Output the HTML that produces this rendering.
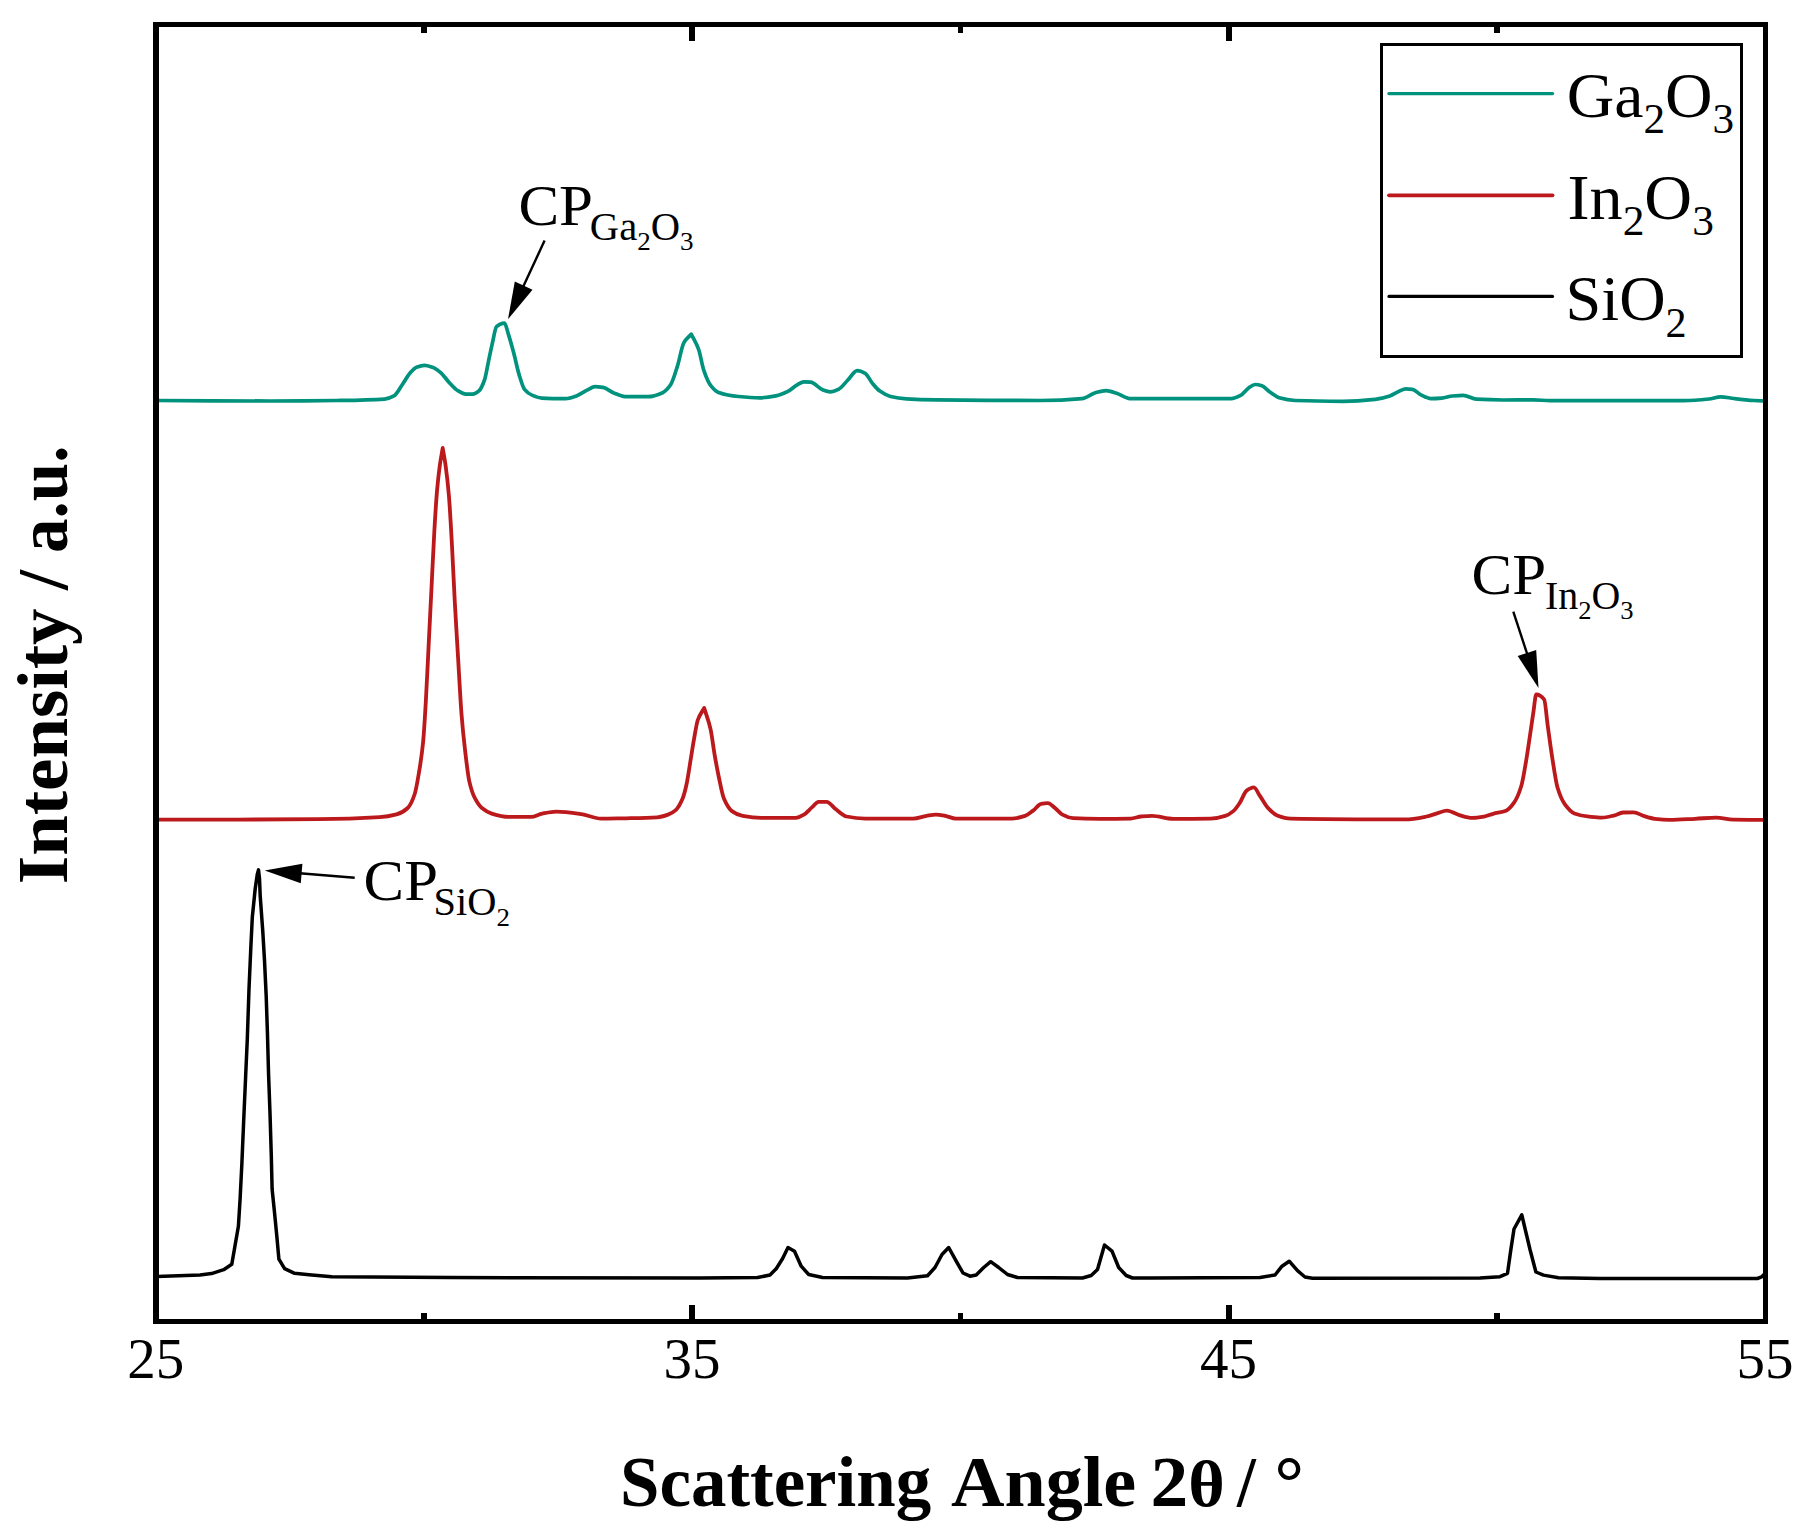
<!DOCTYPE html>
<html lang="en"><head><meta charset="utf-8"><title>XRD patterns</title>
<style>
html,body{margin:0;padding:0;background:#fff;}
body{width:1801px;height:1535px;overflow:hidden;}
svg{display:block;}
text{font-family:"Liberation Serif",serif;fill:#000;}
.b{font-weight:bold;}
</style></head><body>
<svg width="1801" height="1535" viewBox="0 0 1801 1535">
<rect width="1801" height="1535" fill="#fff"/>
<path d="M156.7,400.5C194.4,400.9 232.2,401.0 269.9,401.0C292.1,401.0 314.4,400.8 336.6,400.5C352.6,400.3 368.5,400.2 384.5,399.1C387.6,398.9 390.8,397.6 393.9,395.9C396.6,394.4 399.2,389.1 401.9,385.3C404.6,381.5 407.2,376.3 409.9,373.3C412.1,370.8 414.3,368.0 416.5,367.2C419.2,366.2 421.8,365.3 424.5,365.3C427.2,365.3 429.8,366.3 432.5,367.2C435.2,368.1 437.8,370.3 440.5,372.5C443.6,375.1 446.7,380.0 449.8,383.2C452.5,385.9 455.1,389.0 457.8,390.6C460.5,392.2 463.1,394.1 465.8,394.1C468.0,394.1 470.3,394.1 472.5,394.1C474.7,394.1 477.0,392.5 479.2,390.6C481.0,389.1 482.7,385.0 484.5,380.0C485.8,376.2 487.2,367.5 488.5,361.3C489.8,355.1 491.2,348.3 492.5,342.6C493.8,336.9 495.2,327.9 496.5,326.7C499.2,324.4 501.8,323.2 504.5,323.2C505.8,323.2 507.2,330.4 508.5,334.6C510.3,340.1 512.0,346.7 513.8,353.3C515.6,359.9 517.3,368.9 519.1,374.6C520.9,380.4 522.7,387.1 524.5,389.3C527.2,392.6 529.8,394.3 532.5,395.4C535.6,396.7 538.7,398.0 541.8,398.1C549.8,398.5 557.8,398.6 565.8,398.6C569.3,398.6 572.9,397.1 576.4,395.9C580.0,394.7 583.5,391.8 587.1,390.1C589.8,388.8 592.4,386.6 595.1,386.6C597.8,386.6 600.4,387.0 603.1,387.4C606.7,388.0 610.2,391.6 613.8,392.9C618.1,394.5 622.4,396.7 626.7,396.7C633.8,396.7 640.9,396.7 648.0,396.7C652.9,396.7 657.7,394.9 662.6,392.7C665.3,391.5 667.9,388.7 670.6,384.8C672.8,381.5 675.1,373.5 677.3,366.6C679.5,359.8 681.7,346.5 683.9,342.6C686.3,338.3 688.8,336.9 691.2,334.1C693.7,339.2 696.1,342.5 698.6,349.3C700.4,354.2 702.1,365.5 703.9,370.6C706.1,377.0 708.4,382.4 710.6,385.3C713.3,388.7 715.9,391.5 718.6,392.5C725.3,394.9 731.9,395.9 738.6,396.5C745.7,397.2 752.8,397.8 759.9,397.8C765.2,397.8 770.6,396.9 775.9,395.9C779.9,395.2 783.9,393.4 787.9,391.4C791.0,389.9 794.1,386.5 797.2,384.8C799.4,383.6 801.7,381.8 803.9,381.8C806.1,381.8 808.4,381.9 810.6,382.1C814.6,382.4 818.6,388.3 822.6,389.8C825.2,390.8 827.9,391.9 830.5,391.9C833.2,391.9 835.8,390.6 838.5,389.3C841.6,387.8 844.8,383.1 847.9,380.0C851.0,376.9 854.1,370.6 857.2,370.6C859.9,370.6 862.5,371.8 865.2,373.3C867.4,374.5 869.7,379.9 871.9,382.6C874.6,385.8 877.2,389.2 879.9,391.1C883.4,393.6 887.0,395.6 890.5,396.5C895.8,397.8 901.2,398.6 906.5,398.9C916.3,399.5 926.0,399.8 935.8,399.9C970.5,400.3 1005.1,400.5 1039.8,400.5C1053.9,400.5 1067.9,399.9 1082.0,398.6C1086.4,398.2 1090.9,394.0 1095.3,392.8C1098.9,391.8 1102.4,390.6 1106.0,390.6C1109.5,390.6 1113.1,392.2 1116.6,393.3C1121.1,394.7 1125.5,398.6 1130.0,398.6C1147.8,398.6 1165.5,398.6 1183.3,398.6C1199.3,398.6 1215.2,398.6 1231.2,398.6C1234.3,398.6 1237.5,397.0 1240.6,395.4C1243.3,394.1 1245.9,389.8 1248.6,388.0C1250.8,386.5 1253.0,384.5 1255.2,384.5C1257.4,384.5 1259.7,385.1 1261.9,385.8C1264.6,386.6 1267.2,390.2 1269.9,392.0C1273.0,394.1 1276.1,396.9 1279.2,397.8C1284.5,399.3 1289.9,400.3 1295.2,400.5C1311.2,401.1 1327.2,401.3 1343.2,401.3C1353.9,401.3 1364.5,400.5 1375.2,399.4C1380.1,398.9 1384.9,397.6 1389.8,396.0C1392.9,395.0 1396.0,392.5 1399.1,391.2C1401.3,390.3 1403.6,388.8 1405.8,388.8C1408.0,388.8 1410.3,389.0 1412.5,389.3C1415.2,389.6 1417.8,393.3 1420.5,394.6C1424.0,396.3 1427.6,398.6 1431.1,398.6C1434.7,398.6 1438.2,398.4 1441.8,398.1C1445.4,397.8 1448.9,396.3 1452.5,396.0C1456.0,395.7 1459.6,395.4 1463.1,395.4C1467.5,395.4 1472.0,398.9 1476.4,399.2C1485.3,399.7 1494.2,400.0 1503.1,400.0C1513.2,400.0 1523.3,399.8 1533.4,399.8C1538.9,399.8 1544.5,400.7 1550.0,400.7C1594.6,400.7 1639.3,400.7 1683.9,400.7C1692.2,400.7 1700.6,399.9 1708.9,399.0C1712.8,398.6 1716.7,396.8 1720.6,396.8C1725.1,396.8 1729.5,398.0 1734.0,398.5C1740.7,399.3 1747.3,400.1 1754.0,400.5C1757.9,400.7 1761.9,400.9 1765.8,401.0" fill="none" stroke="#00927d" stroke-width="3.7" stroke-linejoin="round" stroke-linecap="round"/>
<path d="M157.0,819.7C210.7,819.7 264.3,819.5 318.0,819.2C338.6,819.1 359.1,818.5 379.7,817.2C385.3,816.9 390.9,815.9 396.5,814.4C400.2,813.4 404.0,811.5 407.7,808.0C410.0,805.8 412.4,800.9 414.7,794.0C416.1,789.9 417.5,781.3 418.9,773.0C420.3,764.7 421.7,756.2 423.1,742.1C424.0,732.7 425.0,716.1 425.9,700.1C426.8,684.1 427.8,662.8 428.7,644.1C429.6,625.4 430.6,606.8 431.5,588.1C432.4,569.4 433.4,548.0 434.3,532.0C435.2,516.0 436.2,500.5 437.1,490.0C438.0,479.5 439.0,471.5 439.9,464.8C440.8,458.1 441.8,453.6 442.7,448.0C443.6,453.6 444.6,458.1 445.5,464.8C446.6,472.9 447.8,482.4 448.9,495.6C449.9,507.7 451.0,527.4 452.0,546.0C452.9,562.8 453.9,584.9 454.8,602.1C455.9,622.4 457.0,639.7 458.1,658.1C459.2,677.0 460.4,699.9 461.5,714.1C462.7,729.2 463.9,740.3 465.1,750.5C466.5,762.5 467.9,775.2 469.3,781.3C471.2,789.4 473.0,794.6 474.9,798.2C477.2,802.7 479.6,806.1 481.9,808.0C485.2,810.7 488.4,812.6 491.7,813.6C497.3,815.3 502.9,816.9 508.5,816.9C516.0,816.9 523.5,816.9 531.0,816.9C534.7,816.9 538.5,814.3 542.2,813.6C546.9,812.7 551.5,811.6 556.2,811.6C564.6,811.6 573.0,812.9 581.4,814.1C587.9,815.0 594.5,818.6 601.0,818.6C609.4,818.6 617.8,818.4 626.2,818.3C636.6,818.1 646.9,818.0 657.3,817.3C660.9,817.1 664.4,815.9 668.0,814.6C670.7,813.6 673.3,812.2 676.0,809.8C678.2,807.8 680.4,803.9 682.6,798.6C683.9,795.4 685.3,790.1 686.6,784.0C687.9,777.9 689.3,768.1 690.6,760.0C691.8,752.9 692.9,745.0 694.1,738.6C695.3,731.8 696.6,723.5 697.8,720.0C699.9,713.9 702.1,712.0 704.2,708.0C706.3,715.1 708.5,719.8 710.6,729.3C711.9,735.3 713.3,746.9 714.6,754.6C715.9,762.3 717.3,769.6 718.6,776.0C720.4,784.4 722.1,794.4 723.9,798.6C726.6,804.9 729.2,809.2 731.9,811.1C735.5,813.7 739.0,815.3 742.6,815.9C748.8,817.0 755.1,817.8 761.3,817.8C772.8,817.8 784.4,817.8 795.9,817.8C798.6,817.8 801.2,816.1 803.9,814.6C806.6,813.1 809.2,809.7 811.9,807.4C814.1,805.5 816.4,801.8 818.6,801.8C821.3,801.8 823.9,801.8 826.6,801.8C829.7,801.8 832.8,807.0 835.9,809.3C839.4,811.9 843.0,815.8 846.5,816.5C852.7,817.8 859.0,818.6 865.2,818.6C881.2,818.6 897.2,818.6 913.2,818.6C917.6,818.6 922.1,816.6 926.5,815.9C929.6,815.4 932.7,814.6 935.8,814.6C938.9,814.6 942.1,815.3 945.2,815.9C948.7,816.5 952.3,818.6 955.8,818.6C974.5,818.6 993.1,818.6 1011.8,818.6C1016.2,818.6 1020.7,817.3 1025.1,815.9C1027.8,815.0 1030.4,812.6 1033.1,810.6C1035.8,808.6 1038.4,804.4 1041.1,803.9C1043.3,803.4 1045.6,803.1 1047.8,803.1C1050.0,803.1 1052.2,805.7 1054.4,807.4C1057.1,809.4 1059.7,813.3 1062.4,814.6C1066.0,816.4 1069.5,817.9 1073.1,818.1C1082.1,818.7 1091.0,818.9 1100.0,818.9C1110.2,818.9 1120.4,818.8 1130.6,818.6C1134.2,818.5 1137.7,816.8 1141.3,816.5C1144.9,816.2 1148.4,815.9 1152.0,815.9C1159.1,815.9 1166.2,818.9 1173.3,818.9C1185.7,818.9 1198.2,818.8 1210.6,818.6C1215.5,818.5 1220.4,817.4 1225.3,815.9C1228.0,815.1 1230.6,813.3 1233.3,811.1C1235.5,809.3 1237.7,805.9 1239.9,802.6C1242.1,799.3 1244.4,792.2 1246.6,790.6C1249.0,788.9 1251.4,787.4 1253.8,787.4C1255.8,787.4 1257.9,793.0 1259.9,795.9C1262.6,799.7 1265.2,805.1 1267.9,807.9C1271.0,811.2 1274.1,814.2 1277.2,815.4C1281.7,817.1 1286.1,818.5 1290.6,818.6C1328.8,819.3 1367.0,819.4 1405.2,819.4C1412.3,819.4 1419.4,817.9 1426.5,816.5C1430.0,815.8 1433.6,814.3 1437.1,813.3C1440.4,812.4 1443.7,810.7 1447.0,810.7C1451.1,810.7 1455.2,814.0 1459.3,815.1C1463.6,816.3 1468.0,817.9 1472.3,817.9C1476.2,817.9 1480.1,817.3 1484.0,816.7C1487.0,816.2 1490.1,814.6 1493.1,813.8C1497.4,812.6 1501.7,812.5 1506.0,810.7C1508.7,809.6 1511.5,806.3 1514.2,802.4C1516.6,799.0 1518.9,793.8 1521.3,786.0C1522.9,780.7 1524.5,770.3 1526.1,761.0C1527.5,753.0 1528.8,743.2 1530.2,734.0C1531.3,726.6 1532.4,718.6 1533.5,711.4C1534.4,705.5 1535.3,694.5 1536.2,694.5C1538.8,694.5 1541.5,696.1 1544.1,699.4C1545.4,701.0 1546.6,718.0 1547.9,727.0C1549.5,738.2 1551.0,750.2 1552.6,760.0C1554.2,770.2 1555.9,782.0 1557.5,787.5C1560.0,795.7 1562.4,801.0 1564.9,804.4C1568.1,808.7 1571.2,812.3 1574.4,813.5C1579.3,815.3 1584.3,816.2 1589.2,816.7C1593.4,817.1 1597.7,817.6 1601.9,817.6C1605.8,817.6 1609.7,816.5 1613.6,815.6C1616.8,814.9 1619.9,812.6 1623.1,812.5C1626.6,812.4 1630.2,812.3 1633.7,812.3C1637.2,812.3 1640.7,815.1 1644.2,816.1C1647.7,817.2 1651.3,818.4 1654.8,818.8C1659.7,819.4 1664.7,819.9 1669.6,819.9C1678.1,819.9 1686.5,819.2 1695.0,818.8C1702.1,818.5 1709.1,817.6 1716.2,817.6C1721.8,817.6 1727.5,819.6 1733.1,819.7C1743.7,819.8 1754.2,819.9 1764.8,819.9" fill="none" stroke="#bb191b" stroke-width="3.8" stroke-linejoin="round" stroke-linecap="round"/>
<polyline points="157.0,1276.6 200.0,1275.0 211.5,1273.6 223.7,1269.7 231.8,1264.3 234.4,1249.2 238.4,1226.3 240.1,1199.0 241.9,1163.2 243.7,1120.2 245.7,1075.0 247.3,1039.2 249.0,989.0 250.9,946.0 252.3,917.3 255.2,888.7 257.3,874.3 258.5,869.9 259.5,878.6 260.2,895.8 262.8,931.7 264.5,960.4 266.2,996.2 267.4,1032.0 268.6,1075.0 270.0,1113.0 271.3,1156.0 272.1,1189.0 274.6,1213.4 276.7,1234.9 278.9,1259.2 284.6,1268.6 294.6,1273.3 309.0,1274.7 331.8,1276.7 450.0,1277.6 700.0,1278.0 757.5,1277.5 770.0,1275.0 776.2,1268.7 782.5,1258.7 788.0,1247.5 794.5,1251.2 801.2,1266.2 808.7,1274.5 822.5,1277.5 907.5,1278.0 927.5,1275.7 935.0,1267.5 942.0,1254.5 948.7,1247.5 956.2,1261.2 963.0,1273.0 970.0,1276.2 976.2,1275.0 983.7,1267.5 990.7,1261.7 998.7,1267.5 1007.5,1274.5 1017.5,1277.5 1082.5,1278.0 1091.2,1275.5 1097.5,1269.5 1104.5,1245.0 1112.0,1251.2 1118.7,1267.5 1126.2,1275.5 1132.5,1278.0 1150.0,1278.0 1260.0,1277.5 1275.0,1275.0 1282.0,1266.2 1289.2,1261.2 1297.5,1270.7 1305.0,1277.0 1312.5,1278.2 1480.0,1278.0 1500.0,1276.7 1507.5,1273.3 1510.8,1250.0 1514.0,1229.0 1521.8,1214.8 1525.0,1228.5 1530.0,1249.5 1535.9,1272.0 1543.5,1275.1 1558.5,1277.7 1600.0,1278.5 1757.4,1278.5 1761.6,1276.9 1764.0,1274.4" fill="none" stroke="#000" stroke-width="3.5" stroke-linejoin="round" stroke-linecap="round"/>
<g fill="#000" shape-rendering="crispEdges">
<rect x="153" y="22" width="1615" height="5"/><rect x="153" y="1319" width="1615" height="5"/><rect x="153" y="22" width="6" height="1302"/><rect x="1763" y="22" width="5" height="1302"/>
<rect x="689" y="27" width="6" height="14"/><rect x="689" y="1305" width="6" height="14"/><rect x="1226" y="27" width="6" height="14"/><rect x="1226" y="1305" width="6" height="14"/><rect x="421" y="27" width="6" height="6"/><rect x="421" y="1313" width="6" height="6"/><rect x="958" y="27" width="5" height="6"/><rect x="958" y="1313" width="5" height="6"/><rect x="1494" y="27" width="6" height="6"/><rect x="1494" y="1313" width="6" height="6"/>
</g>
<rect x="1381.5" y="44.5" width="360" height="312" fill="#fff" stroke="#000" stroke-width="3"/>
<line x1="1389" y1="93.6" x2="1552.5" y2="93.6" stroke="#00927d" stroke-width="3.4" stroke-linecap="round"/>
<line x1="1389" y1="195.3" x2="1552.5" y2="195.3" stroke="#bb191b" stroke-width="3.8" stroke-linecap="round"/>
<line x1="1389" y1="296.4" x2="1552.5" y2="296.4" stroke="#000" stroke-width="3.2" stroke-linecap="round"/>
<text x="1566.72" y="117.2" font-size="64" textLength="167.38" lengthAdjust="spacingAndGlyphs">Ga<tspan font-size="42" dy="15.9">2</tspan><tspan dy="-15.9">O</tspan><tspan font-size="42" dy="15.9">3</tspan></text>
<text x="1567.53" y="219.1" font-size="64" textLength="146.35" lengthAdjust="spacingAndGlyphs">In<tspan font-size="42" dy="16.2">2</tspan><tspan dy="-16.2">O</tspan><tspan font-size="42" dy="16.2">3</tspan></text>
<text x="1565.59" y="320.4" font-size="64" textLength="121.02" lengthAdjust="spacingAndGlyphs">SiO<tspan font-size="42" dy="16.4">2</tspan></text>
<text x="155.75" y="1378" font-size="57" text-anchor="middle">25</text>
<text x="692" y="1378" font-size="57" text-anchor="middle">35</text>
<text x="1228.5" y="1378" font-size="57" text-anchor="middle">45</text>
<text x="1765" y="1378" font-size="57" text-anchor="middle">55</text>
<text y="1506" font-size="71" font-weight="bold"><tspan x="620.00" textLength="311.23" lengthAdjust="spacingAndGlyphs">Scattering</tspan> <tspan x="950.96" textLength="185.31" lengthAdjust="spacingAndGlyphs">Angle</tspan> <tspan x="1150.51" textLength="74.33" lengthAdjust="spacingAndGlyphs">2<tspan font-size="66">θ</tspan></tspan> <tspan x="1236.95" textLength="18.79" lengthAdjust="spacingAndGlyphs">/</tspan> <tspan x="1274.49" textLength="29.44" lengthAdjust="spacingAndGlyphs">°</tspan></text>
<g transform="translate(67.2,0) rotate(-90)">
<text y="0" font-size="71" font-weight="bold"><tspan x="-884.26" textLength="275.73" lengthAdjust="spacingAndGlyphs">Intensity</tspan> <tspan x="-589.98" textLength="20.11" lengthAdjust="spacingAndGlyphs">/</tspan> <tspan x="-552.94" textLength="107.45" lengthAdjust="spacingAndGlyphs">a.u.</tspan></text>
</g>
<text font-size="56"><tspan x="518.42" y="224.9" textLength="74.60" lengthAdjust="spacingAndGlyphs">CP</tspan><tspan x="589.82" y="240.4" font-size="39" textLength="103.87" lengthAdjust="spacingAndGlyphs">Ga<tspan font-size="26" dy="9.2">2</tspan><tspan dy="-9.2">O</tspan><tspan font-size="26" dy="9.2">3</tspan></tspan></text>
<text font-size="56"><tspan x="1471.53" y="593.8" textLength="74.49" lengthAdjust="spacingAndGlyphs">CP</tspan><tspan x="1544.98" y="608.8" font-size="39" textLength="88.71" lengthAdjust="spacingAndGlyphs">In<tspan font-size="26" dy="10.1">2</tspan><tspan dy="-10.1">O</tspan><tspan font-size="26" dy="10.1">3</tspan></tspan></text>
<text font-size="56"><tspan x="363.63" y="899.9" textLength="74.28" lengthAdjust="spacingAndGlyphs">CP</tspan><tspan x="433.59" y="914.9" font-size="39" textLength="76.37" lengthAdjust="spacingAndGlyphs">SiO<tspan font-size="26" dy="11.1">2</tspan></tspan></text>
<line x1="544.6" y1="240.6" x2="522.8" y2="287.5" stroke="#000" stroke-width="2.4"/><polygon points="508.0,319.2 514.8,281.5 532.5,289.8" fill="#000"/>
<line x1="1513.3" y1="611.7" x2="1527.5" y2="654.9" stroke="#000" stroke-width="2.4"/><polygon points="1538.5,688.1 1517.7,656.0 1536.2,649.9" fill="#000"/>
<line x1="354.7" y1="877.7" x2="299.6" y2="873.3" stroke="#000" stroke-width="2.4"/><polygon points="264.7,870.5 302.4,863.7 300.8,883.2" fill="#000"/>
</svg>
</body></html>
